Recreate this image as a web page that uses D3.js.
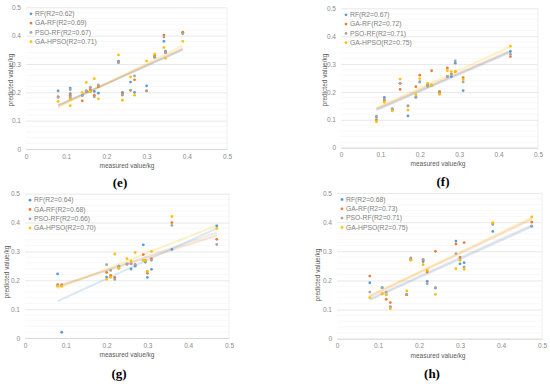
<!DOCTYPE html>
<html><head><meta charset="utf-8">
<script src="https://cdn.jsdelivr.net/npm/d3@7"></script>
<style>body{margin:0;background:#fff}svg{display:block}</style>
</head><body>
<svg id="c" width="550" height="384"></svg>
<script>
// ---------- DATA ----------
const seriesNames = ["RF", "GA-RF", "PSO-RF", "GA-HPSO"];
const seriesColors = ["#5B9BD5", "#ED7D31", "#A5A5A5", "#FFC000"];
const axisTicks = [0, 0.1, 0.2, 0.3, 0.4, 0.5];

// (e)
const legendE = ["RF(R2=0.62)", "GA-RF(R2=0.69)", "PSO-RF(R2=0.67)", "GA-HPSO(R2=0.71)"];
const measuredE = [0.08,0.11,0.11,0.14,0.15,0.16,0.17,0.18,0.23,0.24,0.26,0.27,0.30,0.32,0.343,0.347,0.39];
const rfE   = [0.205,0.215,0.195,0.19,0.203,0.203,0.203,0.197,0.31,0.2,0.236,0.2,0.223,0.324,0.38,0.345,0.41];
const gaE   = [0.185,0.19,0.18,0.17,0.205,0.21,0.19,0.22,0.305,0.195,0.207,0.244,0.205,0.329,0.402,0.34,0.412];
const psoE  = [0.182,0.209,0.185,0.188,0.205,0.218,0.184,0.226,0.305,0.19,0.207,0.258,0.205,0.324,0.395,0.34,0.407];
const hpsoE = [0.168,0.175,0.153,0.2,0.235,0.203,0.248,0.177,0.332,0.172,0.254,0.19,0.311,0.335,0.358,0.32,0.38];
const trendE = [[0.08,0.155,0.39,0.35],[0.08,0.152,0.39,0.355],[0.08,0.153,0.39,0.352],[0.08,0.147,0.39,0.365]];

// (f)
const legendF = ["RF(R2=0.67)", "GA-RF(R2=0.72)", "PSO-RF(R2=0.71)", "GA-HPSO(R2=0.75)"];
const measuredF = [0.09,0.11,0.13,0.15,0.17,0.19,0.20,0.22,0.23,0.25,0.27,0.28,0.29,0.31,0.43];
const rfF   = [0.11,0.18,0.139,0.231,0.114,0.181,0.236,0.225,0.224,0.2,0.255,0.255,0.303,0.205,0.345];
const gaF   = [0.1,0.169,0.135,0.209,0.15,0.219,0.26,0.221,0.276,0.201,0.286,0.264,0.273,0.251,0.327];
const psoF  = [0.113,0.175,0.139,0.231,0.15,0.181,0.236,0.221,0.224,0.195,0.255,0.264,0.311,0.236,0.335];
const hpsoF = [0.093,0.163,0.132,0.246,0.135,0.19,0.248,0.231,0.224,0.191,0.276,0.273,0.273,0.245,0.364];
const trendF = [[0.09,0.135,0.43,0.342],[0.09,0.14,0.43,0.348],[0.09,0.137,0.43,0.345],[0.09,0.142,0.43,0.362]];

// (g)
const legendG = ["RF(R2=0.64)", "GA-RF(R2=0.68)", "PSO-RF(R2=0.66)", "GA-HPSO(R2=0.70)"];
const measuredG = [0.08,0.09,0.20,0.21,0.22,0.23,0.25,0.26,0.27,0.29,0.295,0.30,0.31,0.36,0.47];
const rfG   = [0.222,0.02,0.211,0.211,0.209,0.249,0.256,0.239,0.249,0.323,0.263,0.21,0.238,0.307,0.388];
const gaG   = [0.185,0.185,0.227,0.217,0.209,0.242,0.256,0.257,0.254,0.289,0.269,0.224,0.275,0.4,0.342];
const psoG  = [0.182,0.182,0.254,0.234,0.203,0.249,0.256,0.257,0.254,0.269,0.263,0.231,0.269,0.39,0.324];
const hpsoG = [0.179,0.179,0.203,0.211,0.291,0.242,0.275,0.267,0.296,0.269,0.269,0.231,0.3,0.421,0.379];
const trendG = [[0.08,0.128,0.47,0.38],[0.08,0.18,0.47,0.355],[0.08,0.177,0.47,0.365],[0.08,0.172,0.47,0.39]];

// (h)
const legendH = ["RF(R2=0.68)", "GA-RF(R2=0.73)", "PSO-RF(R2=0.71)", "GA-HPSO(R2=0.75)"];
const measuredH = [0.08,0.11,0.12,0.13,0.17,0.18,0.21,0.22,0.24,0.29,0.30,0.31,0.38,0.475];
const rfH   = [0.192,0.175,0.152,0.109,0.151,0.272,0.265,0.197,0.174,0.335,0.257,0.261,0.368,0.386];
const gaH   = [0.215,0.154,0.135,0.124,0.151,0.272,0.271,0.229,0.3,0.325,0.28,0.33,0.395,0.4];
const psoH  = [0.16,0.175,0.16,0.109,0.151,0.277,0.271,0.189,0.174,0.292,0.275,0.246,0.392,0.386];
const hpsoH = [0.141,0.154,0.152,0.103,0.164,0.269,0.254,0.235,0.152,0.24,0.269,0.238,0.398,0.418];
const trendH = [[0.08,0.133,0.475,0.385],[0.08,0.145,0.475,0.41],[0.08,0.137,0.475,0.39],[0.08,0.148,0.475,0.415]];

const panelLabels = ["(e)", "(f)", "(g)", "(h)"];

// ---------- LAYOUT ----------
const panels = [
  {label: panelLabels[0], legend: legendE, x: measuredE, ys: [rfE, gaE, psoE, hpsoE], trend: trendE,
   px: [26, 227], py: [149, 7.3], xt: [127, 166], yt: [11, 80], lab: [120, 187]},
  {label: panelLabels[1], legend: legendF, x: measuredF, ys: [rfF, gaF, psoF, hpsoF], trend: trendF,
   px: [341, 538], py: [147.7, 8.3], xt: [438, 164], yt: [325, 80], lab: [443, 186]},
  {label: panelLabels[2], legend: legendG, x: measuredG, ys: [rfG, gaG, psoG, hpsoG], trend: trendG,
   px: [25, 229], py: [338, 193.7], xt: [127, 355], yt: [7, 272], lab: [119, 378]},
  {label: panelLabels[3], legend: legendH, x: measuredH, ys: [rfH, gaH, psoH, hpsoH], trend: trendH,
   px: [337, 542], py: [338.7, 193], xt: [438, 356], yt: [318, 275], lab: [432, 378]}
];

const svg = d3.select("#c");
const font = "'Liberation Sans', Arial, sans-serif";

panels.forEach(p => {
  const x = d3.scaleLinear().domain([0, 0.5]).range(p.px);
  const y = d3.scaleLinear().domain([0, 0.5]).range(p.py);
  const g = svg.append("g");

  const minor = d3.range(0, 51, 2).map(v => v / 100).filter(v => Math.round(v * 100) % 10 !== 0);
  g.selectAll(".mn").data(minor).enter().append("line")
    .attr("x1", p.px[0]).attr("x2", p.px[1])
    .attr("y1", d => y(d)).attr("y2", d => y(d))
    .attr("stroke", "#f3f3f3").attr("stroke-width", 0.6);

  const yAxis = d3.axisLeft(y).tickValues(axisTicks).tickFormat(d => d === 0 ? "0" : d3.format(".1f")(d))
    .tickSize(-(p.px[1] - p.px[0])).tickPadding(5);
  const ya = g.append("g").attr("transform", `translate(${p.px[0]},0)`).call(yAxis);
  ya.select(".domain").remove();
  ya.selectAll(".tick line").attr("stroke", "#e0e0e0").attr("stroke-width", 0.7);
  ya.selectAll(".tick text").attr("fill", "#8a8a8a").style("font", `6.5px ${font}`);

  const xAxis = d3.axisBottom(x).tickValues(axisTicks).tickFormat(d => d === 0 ? "0" : d3.format(".1f")(d))
    .tickSize(0).tickPadding(5);
  const xa = g.append("g").attr("transform", `translate(0,${p.py[0]})`).call(xAxis);
  xa.select(".domain").attr("stroke", "#d4d4d4").attr("stroke-width", 0.8);
  xa.selectAll(".tick text").attr("fill", "#8a8a8a").style("font", `6.5px ${font}`);

  g.append("line").attr("x1", p.px[1]).attr("x2", p.px[1]).attr("y1", p.py[0]).attr("y2", p.py[1])
    .attr("stroke", "#e8e8e8").attr("stroke-width", 0.7);

  p.trend.forEach((t, i) => {
    g.append("line")
      .attr("x1", x(t[0])).attr("y1", y(t[1])).attr("x2", x(t[2])).attr("y2", y(t[3]))
      .attr("stroke", seriesColors[i]).attr("stroke-opacity", 0.22).attr("stroke-width", 2);
  });

  p.ys.forEach((vals, i) => {
    g.selectAll(null).data(vals).enter().append("circle")
      .attr("cx", (d, k) => x(p.x[k])).attr("cy", d => y(d))
      .attr("r", 1.4).attr("fill", seriesColors[i]);
  });

  p.legend.forEach((t, i) => {
    const ly = p.py[1] + 6.5 + i * 9.3;
    const lx = p.px[0] + 5;
    g.append("circle").attr("cx", lx).attr("cy", ly).attr("r", 1.4).attr("fill", seriesColors[i]);
    g.append("text").attr("x", lx + 4).attr("y", ly + 2.2).text(t)
      .attr("fill", "#7f7f7f").style("font", `6.8px ${font}`);
  });

  g.append("text").attr("x", p.xt[0]).attr("y", p.xt[1] + 2).attr("text-anchor", "middle")
    .text("measured value/kg").attr("fill", "#595959").style("font", `6.5px ${font}`);
  g.append("text").attr("transform", `translate(${p.yt[0] + 2},${p.yt[1]}) rotate(-90)`)
    .attr("text-anchor", "middle").text("predicted value/kg")
    .attr("fill", "#595959").style("font", `6.5px ${font}`);

  g.append("text").attr("x", p.lab[0]).attr("y", p.lab[1]).attr("text-anchor", "middle")
    .text(p.label).attr("fill", "#000")
    .style("font", `bold 13px 'Liberation Serif', 'Times New Roman', serif`);
});
</script>
</body></html>
